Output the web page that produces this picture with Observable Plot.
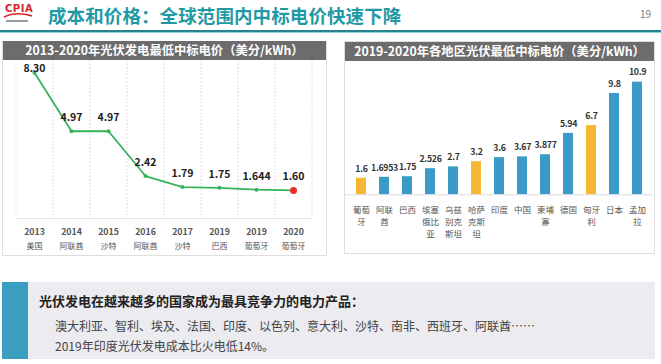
<!DOCTYPE html>
<html><head><meta charset="utf-8">
<script src="https://cdn.jsdelivr.net/npm/d3@7"></script>
<script src="https://cdn.jsdelivr.net/npm/@observablehq/plot@0.6"></script>
<style>
html,body{margin:0;padding:0}
body{width:661px;height:364px;position:relative;background:#fff;overflow:hidden;font-family:"Noto Sans CJK SC","Noto Sans",sans-serif}
.abs{position:absolute}
#title{left:48px;top:3px;font-size:18.5px;font-weight:bold;color:#1f9aa4;line-height:24px;letter-spacing:0.1px;white-space:nowrap}
#page{left:640px;top:7px;font-size:10px;color:#777;line-height:14px}
#rule1{left:0;top:30px;width:661px;height:2px;background:#27838f}
#rule2{left:0;top:32px;width:661px;height:1px;background:#8fd2d6}
.panel{border:1px solid #dedede;box-sizing:border-box;background:#fff}
.bar{background:#6c6c6c;color:#fff;font-weight:bold;font-size:12.3px;line-height:19px;text-align:center;white-space:nowrap}
#tealbar{left:2px;top:282px;width:26px;height:77px;background:#3b9ec0}
#note{left:28px;top:282px;width:627px;height:77px;background:#ebebf0}
.t1{left:39px;top:292px;font-size:13px;font-weight:bold;color:#222;line-height:18px;white-space:nowrap}
.t2{left:55px;top:318px;font-size:12px;color:#444;line-height:16px;white-space:nowrap}
.t3{left:55px;top:338px;font-size:12px;color:#444;line-height:16px;white-space:nowrap}
</style></head>
<body>
<svg class="abs" style="left:2px;top:2px" width="36" height="26" viewBox="0 0 36 26">
  <text x="3" y="10" font-family="DejaVu Sans" font-weight="bold" font-size="10" fill="#d7262b" letter-spacing="0.5">CPIA</text>
  <path d="M2 15 Q14 9 30 14" stroke="#d7262b" stroke-width="1.6" fill="none"/>
  <rect x="4" y="18" width="22" height="2" fill="#9a9a9a"/>
</svg>
<div id="title" class="abs">成本和价格：全球范围内中标电价快速下降</div>
<div id="page" class="abs">19</div>
<div id="rule1" class="abs"></div>
<div id="rule2" class="abs"></div>

<div class="abs panel" style="left:2px;top:41px;width:325px;height:215px"></div>
<div class="abs bar" style="left:3px;top:41px;width:323px;height:19px">2013-2020年光伏发电最低中标电价（美分/kWh）</div>
<div id="left" class="abs" style="left:2px;top:60px"></div>

<div class="abs panel" style="left:344px;top:41px;width:311px;height:213px"></div>
<div class="abs bar" style="left:345px;top:42px;width:309px;height:19px">2019-2020年各地区光伏最低中标电价（美分/kWh）</div>
<div id="right" class="abs" style="left:344px;top:62px"></div>

<div id="tealbar" class="abs"></div>
<div id="note" class="abs"></div>
<div class="abs t1">光伏发电在越来越多的国家成为最具竞争力的电力产品：</div>
<div class="abs t2">澳大利亚、智利、埃及、法国、印度、以色列、意大利、沙特、南非、西班牙、阿联酋……</div>
<div class="abs t3">2019年印度光伏发电成本比火电低14%。</div>

<script>
// ---- data: left chart ----
const lineYears = ["2013","2014","2015","2016","2017","2019","2019","2020"];
const lineCountries = ["美国","阿联酋","沙特","阿联酋","沙特","巴西","葡萄牙","葡萄牙"];
const lineValues = [8.30, 4.97, 4.97, 2.42, 1.79, 1.75, 1.644, 1.60];
const lineLabels = ["8.30","4.97","4.97","2.42","1.79","1.75","1.644","1.60"];

// ---- data: right chart ----
const barCountries = ["葡萄牙","阿联酋","巴西","埃塞俄比亚","乌兹别克斯坦","哈萨克斯坦","印度","中国","柬埔寨","德国","匈牙利","日本","孟加拉"];
const barValues = [1.6, 1.6953, 1.75, 2.526, 2.7, 3.2, 3.6, 3.67, 3.877, 5.94, 6.7, 9.8, 10.9];
const barLabels = ["1.6","1.6953","1.75","2.526","2.7","3.2","3.6","3.67","3.877","5.94","6.7","9.8","10.9"];
const highlighted = ["葡萄牙","哈萨克斯坦","匈牙利"];

const FONT = '"Noto Sans CJK SC","Noto Sans",sans-serif';
const lineRows = lineValues.map((v, i) => ({i, year: lineYears[i], country: lineCountries[i], value: v, label: lineLabels[i]}));
const n = lineRows.length;

const left = Plot.plot({
  width: 325, height: 195,
  marginTop: 0, marginBottom: 37, marginLeft: 13.8, marginRight: 15,
  style: {fontFamily: FONT, background: "transparent", overflow: "visible"},
  x: {type: "point", domain: d3.range(n), padding: 0.5, axis: null},
  y: {domain: [0, 9], axis: null},
  marks: [
    Plot.ruleX(lineRows, {x: "i", dx: 18.5, stroke: "#d4d4d4", strokeDasharray: "1.5,2"}),
    Plot.ruleX(lineRows, {x: "i", dx: -18.5, filter: (d) => d.i === 0, stroke: "#e4e4e4", strokeDasharray: "1.5,2"}),
    Plot.ruleY([0], {stroke: "#e6e6e6", strokeWidth: 1.2}),
    Plot.line(lineRows, {x: "i", y: "value", stroke: "#37b35c", strokeWidth: 1.8}),
    Plot.dot(lineRows, {x: "i", y: "value", r: 2, fill: "#37b35c", filter: (d) => d.i < n - 1}),
    Plot.dot(lineRows, {x: "i", y: "value", r: 3.5, fill: "#e8312b", filter: (d) => d.i === n - 1}),
    Plot.text(lineRows, {x: "i", y: "value", text: "label", dy: -4.5, filter: (d) => d.i === 0, fontSize: 10.5, fontWeight: "bold", fill: "#222"}),
    Plot.text(lineRows, {x: "i", y: "value", text: "label", dy: -13.5, filter: (d) => d.i > 0, fontSize: 10.5, fontWeight: "bold", fill: "#222"}),
    Plot.text(lineRows, {x: "i", y: () => 0, text: "year", dy: 13.7, fontSize: 8.8, fontWeight: "bold", fill: "#555"}),
    Plot.text(lineRows, {x: "i", y: () => 0, text: "country", dy: 27.7, fontSize: 8, fill: "#555"})
  ]
});
document.getElementById("left").appendChild(left);

const wrap2 = (s) => s.match(/.{1,2}/g).join("\n");
const barRows = barValues.map((v, i) => ({country: barCountries[i], value: v, label: barLabels[i], hl: highlighted.includes(barCountries[i])}));

const right = Plot.plot({
  width: 310, height: 192,
  marginTop: 0, marginBottom: 59.7, marginLeft: 7.7, marginRight: 6.6,
  style: {fontFamily: FONT, background: "transparent", overflow: "visible"},
  x: {domain: barCountries, paddingInner: 0.55, paddingOuter: 0, axis: null},
  y: {domain: [0, 12.8], axis: null},
  color: {domain: [false, true], range: ["#3a9cc6", "#f6b733"]},
  marks: [
    Plot.barY(barRows, {x: "country", y: "value", fill: "hl"}),
    Plot.ruleY([0], {stroke: "#dcdcdc", insetLeft: -7, insetRight: -6}),
    Plot.text(barRows, {x: "country", y: "value", text: "label", dy: -9.5, fontSize: 8.8, fontWeight: "bold", fill: "#333"}),
    Plot.text(barRows, {x: "country", y: () => 0, text: (d) => wrap2(d.country), lineAnchor: "top", dy: 10, lineHeight: 1.4, fontSize: 8.5, fill: "#555"})
  ]
});
right.querySelectorAll("text").forEach((t) => { if (/^[0-9.]+$/.test(t.textContent)) t.setAttribute("letter-spacing", "-0.3"); });
document.getElementById("right").appendChild(right);
</script>
</body></html>
